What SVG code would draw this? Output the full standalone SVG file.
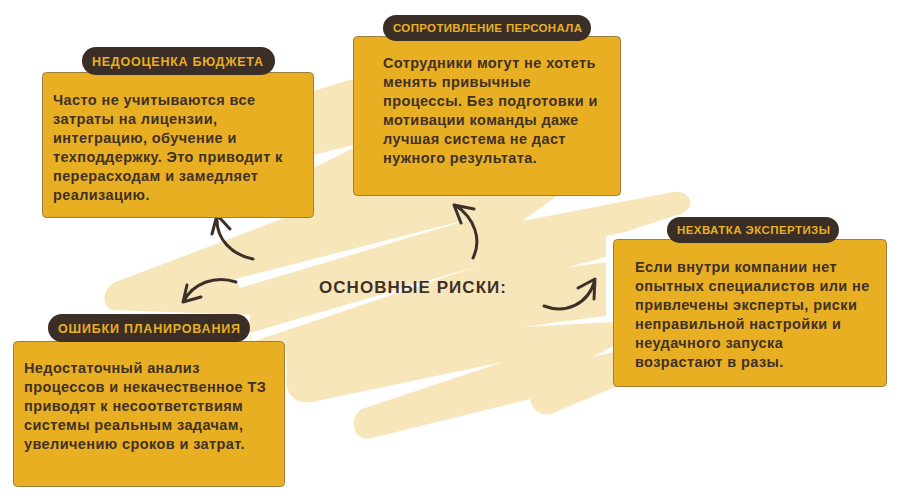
<svg xmlns="http://www.w3.org/2000/svg" width="899" height="500" viewBox="0 0 899 500">
<defs>
<style>
.bg{fill:#f8e6bb}
.gap{fill:#ffffff}
.box{fill:#e8af22;stroke:#9c7d3c;stroke-width:1}
.pill{fill:#3b2e26}
.ptxt{font-family:"Liberation Sans",Arial,sans-serif;font-weight:bold;font-size:12.5px;fill:#e9b022}
.sm{font-size:11.5px}
.txt{font-family:"Liberation Sans",Arial,sans-serif;font-weight:bold;font-size:14.5px;letter-spacing:0.4px;fill:#3f3128}
.title{font-family:"Liberation Sans",Arial,sans-serif;font-weight:bold;font-size:17px;fill:#3f3128}
.arr{fill:none;stroke:#3d3028;stroke-width:3;stroke-linecap:round;stroke-linejoin:round}
</style>
</defs>
<rect width="899" height="500" fill="#ffffff"/>
<g id="background">
<path class="bg" d="M118,281 L200,250 L313,207 L313,91 L353,79 L450,55 L600,40 L557,196 C545,205 533,213 522,221 L673,192 C690,190 697,205 683,213 L625,232 L606,236 L606,316 L620,320 L620,386 L613,388 L560,410 C545,420 532,412 530,399 L372,438 C352,442 348,418 362,409 L503,362 L312,402 C292,405 284,390 287,376 L285,341 L250,341 L250,315 L112,310 C100,306 102,286 118,281 Z"/>
<polygon class="gap" points="313,155 366,142 313,168"/>
<polygon class="gap" points="235,279 478,217 240,288"/>
<polygon class="gap" points="250,333 478,266 252,342"/>
<polygon class="gap" points="522,327 612,315 613,322"/>
<polygon class="gap" points="593,357 613,346 613,352"/>
<polygon class="gap" points="565,268 606,257 606,262"/>
</g>
<g id="connectors">
<path class="arr" d="M253,259 C233,255 215,240 217,215 M212,234 L217,215 L230,229"/>
<path class="arr" d="M236,282 C215,275 193,283 183,302 M187,285 L183,302 L201,297"/>
<path class="arr" d="M473,258 C482,240 475,218 455,205 M461,223 L454,205 L474,209"/>
<path class="arr" d="M544,306 C565,314 588,305 595,280 M578,288 L595,279 L594,299"/>
</g>
<g id="center">
<text class="title" x="319" y="293" textLength="187" lengthAdjust="spacing">ОСНОВНЫЕ РИСКИ:</text>
</g>
<g id="node-budget">
<rect class="box" x="42.5" y="72.5" width="271" height="145" rx="4"/>
<rect class="pill" x="82" y="47" width="193" height="28" rx="14"/>
<text class="ptxt" x="92" y="65.5" textLength="171" lengthAdjust="spacing">НЕДООЦЕНКА БЮДЖЕТА</text>
<text class="txt" x="53" y="105">Часто не учитываются все</text>
<text class="txt" x="53" y="124">затраты на лицензии,</text>
<text class="txt" x="53" y="143">интеграцию, обучение и</text>
<text class="txt" x="53" y="162">техподдержку. Это приводит к</text>
<text class="txt" x="53" y="181">перерасходам и замедляет</text>
<text class="txt" x="53" y="200">реализацию.</text>
</g>
<g id="node-staff">
<rect class="box" x="353.5" y="36.5" width="267" height="159" rx="4"/>
<rect class="pill" x="383" y="15" width="208" height="26" rx="13"/>
<text class="ptxt sm" x="393" y="32" textLength="189" lengthAdjust="spacing">СОПРОТИВЛЕНИЕ ПЕРСОНАЛА</text>
<text class="txt" x="383" y="68">Сотрудники могут не хотеть</text>
<text class="txt" x="383" y="87">менять привычные</text>
<text class="txt" x="383" y="106">процессы. Без подготовки и</text>
<text class="txt" x="383" y="125">мотивации команды даже</text>
<text class="txt" x="383" y="144">лучшая система не даст</text>
<text class="txt" x="383" y="163">нужного результата.</text>
</g>
<g id="node-expertise">
<rect class="box" x="613.5" y="239.5" width="273" height="147" rx="4"/>
<rect class="pill" x="667" y="217" width="172" height="26" rx="13"/>
<text class="ptxt sm" x="677" y="234" textLength="153" lengthAdjust="spacing">НЕХВАТКА ЭКСПЕРТИЗЫ</text>
<text class="txt" x="635" y="272">Если внутри компании нет</text>
<text class="txt" x="635" y="291">опытных специалистов или не</text>
<text class="txt" x="635" y="310">привлечены эксперты, риски</text>
<text class="txt" x="635" y="329">неправильной настройки и</text>
<text class="txt" x="635" y="348">неудачного запуска</text>
<text class="txt" x="635" y="367">возрастают в разы.</text>
</g>
<g id="node-planning">
<rect class="box" x="13.5" y="341.5" width="271" height="145" rx="4"/>
<rect class="pill" x="48" y="314" width="202" height="28" rx="14"/>
<text class="ptxt" x="58" y="332.5" textLength="182" lengthAdjust="spacing">ОШИБКИ ПЛАНИРОВАНИЯ</text>
<text class="txt" x="24" y="373">Недостаточный анализ</text>
<text class="txt" x="24" y="392">процессов и некачественное ТЗ</text>
<text class="txt" x="24" y="411">приводят к несоответствиям</text>
<text class="txt" x="24" y="430">системы реальным задачам,</text>
<text class="txt" x="24" y="449">увеличению сроков и затрат.</text>
</g>
</svg>
